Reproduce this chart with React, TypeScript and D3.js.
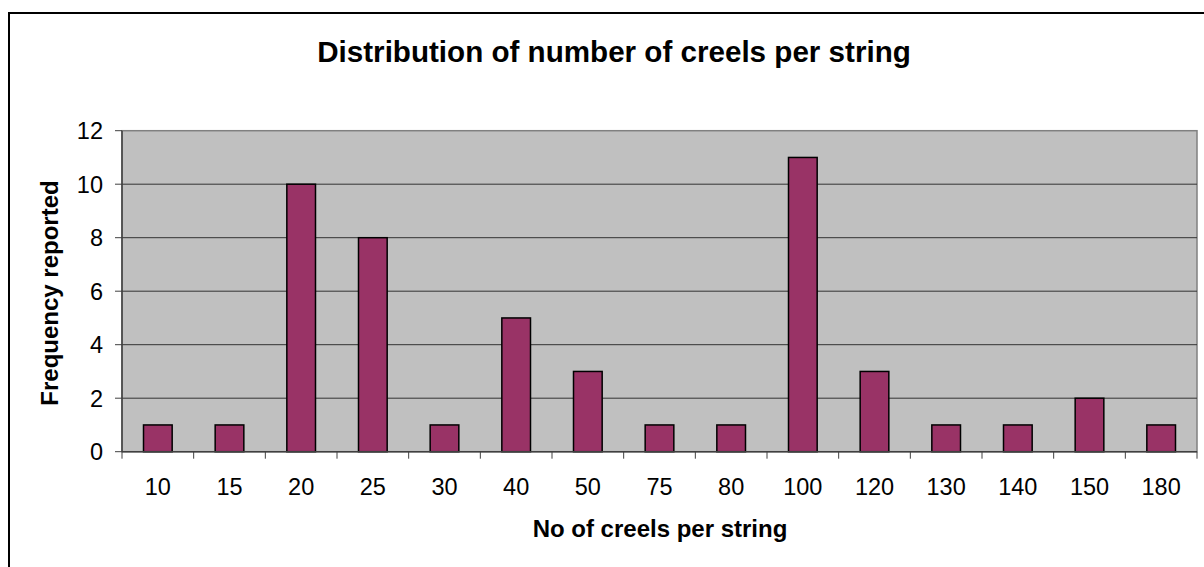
import React from "react";
import * as d3 from "d3";

// Number of creels per string (category) and how often each was reported
const creelsPerString: string[] = ["10", "15", "20", "25", "30", "40", "50", "75", "80", "100", "120", "130", "140", "150", "180"];
const frequencyReported: number[] = [1, 1, 10, 8, 1, 5, 3, 1, 1, 11, 3, 1, 1, 2, 1];
const yTicks: number[] = [0, 2, 4, 6, 8, 10, 12];

const W = 1204;
const H = 567;
const plot = { left: 122, right: 1197, top: 130.7, bottom: 451.7 };
const FONT = "'Liberation Sans', Arial, Helvetica, sans-serif";

export default function App() {
  const x = d3
    .scaleBand<string>()
    .domain(creelsPerString)
    .range([plot.left, plot.right])
    .paddingInner(0.6)
    .paddingOuter(0.3);
  const y = d3.scaleLinear().domain([0, 12]).range([plot.bottom, plot.top]);

  // category boundaries for the x tick marks
  const boundaries = d3.range(creelsPerString.length + 1).map((i) => plot.left + i * ((plot.right - plot.left) / creelsPerString.length));

  return (
    <svg
      width={W}
      height={H}
      style={{ position: "absolute", left: 0, top: 0, background: "#fff" }}
      fontFamily={FONT}
    >
      {/* chart area frame */}
      <rect x={9} y={13} width={W + 20} height={H + 20} fill="#fff" stroke="#000" strokeWidth={2} />

      <text x={614} y={62} textAnchor="middle" fontSize={29.6} fontWeight="bold" fill="#000">
        Distribution of number of creels per string
      </text>

      {/* plot area */}
      <rect x={plot.left} y={plot.top} width={plot.right - plot.left} height={plot.bottom - plot.top} fill="#C0C0C0" stroke="#808080" strokeWidth={1.5} />

      {yTicks.filter((t) => t > 0 && t < 12).map((t) => (
        <line key={"g" + t} x1={plot.left} x2={plot.right} y1={y(t)} y2={y(t)} stroke="#333" strokeWidth={1} />
      ))}

      {creelsPerString.map((c, i) => (
        <rect
          key={c}
          x={x(c)!}
          y={y(frequencyReported[i])}
          width={x.bandwidth()}
          height={y(0) - y(frequencyReported[i])}
          fill="#993366"
          stroke="#000"
          strokeWidth={1.5}
        />
      ))}

      {/* y axis */}
      <line x1={plot.left} x2={plot.left} y1={plot.top} y2={plot.bottom} stroke="#404040" strokeWidth={1.5} />
      {yTicks.map((t) => (
        <g key={"y" + t}>
          <line x1={plot.left - 7} x2={plot.left} y1={y(t)} y2={y(t)} stroke="#404040" strokeWidth={1} />
          <text x={103} y={y(t)} dy="0.36em" textAnchor="end" fontSize={23.5} fill="#000">
            {t}
          </text>
        </g>
      ))}

      {/* x axis */}
      <line x1={plot.left} x2={plot.right} y1={plot.bottom} y2={plot.bottom} stroke="#404040" strokeWidth={1.5} />
      {boundaries.map((b, i) => (
        <line key={"xt" + i} x1={b} x2={b} y1={plot.bottom} y2={plot.bottom + 7} stroke="#404040" strokeWidth={1} />
      ))}
      {creelsPerString.map((c) => (
        <text key={"xl" + c} x={x(c)! + x.bandwidth() / 2} y={494.5} textAnchor="middle" fontSize={23.5} fill="#000">
          {c}
        </text>
      ))}

      <text x={660} y={537} textAnchor="middle" fontSize={24} fontWeight="bold" fill="#000">
        No of creels per string
      </text>
      <text transform={`translate(58,293) rotate(-90)`} textAnchor="middle" fontSize={24} fontWeight="bold" fill="#000">
        Frequency reported
      </text>
    </svg>
  );
}
